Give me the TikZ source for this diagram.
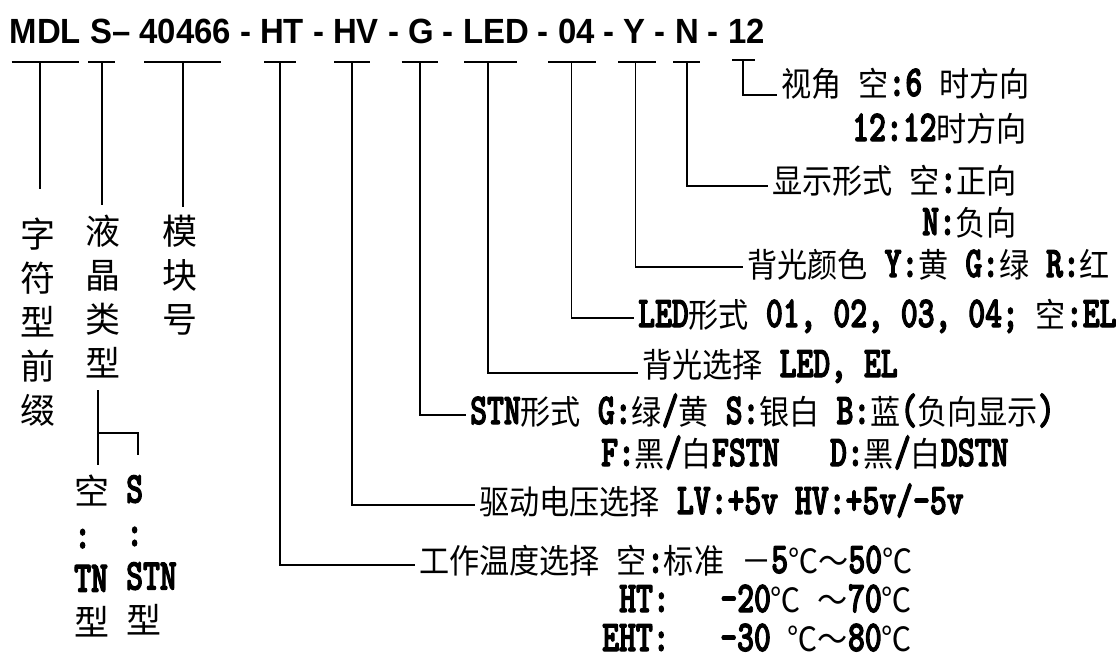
\documentclass[tikz,border=0pt]{standalone}
\usepackage{fontspec}
\setmainfont{Liberation Serif}
\newfontfamily\hdfont{Liberation Sans}[FakeStretch=0.94]
\newfontfamily\latfont{Latin Modern Mono Light}[FakeStretch=0.73,FakeBold=2.5,WordSpace={1,0,0}]
\newfontfamily\cjkfont{Noto Sans CJK SC}[FakeStretch=0.9]
\newfontfamily\cjkvfont{Noto Sans CJK SC}
\newcommand\z[1]{{\normalfont\cjkfont\fontsize{33.5}{40}\selectfont #1}}
\newcommand\zv[1]{{\normalfont\cjkvfont\fontsize{35}{44}\selectfont #1}}
\tikzset{
  mdlline/.style={line width=1.8pt},
  mdllbl/.style={anchor=base west,inner xsep=4pt,inner ysep=0pt,
    font=\latfont\bfseries\fontsize{44}{46}\selectfont},
  mdlcol/.style={anchor=north,align=center,inner sep=0pt,
    font=\cjkvfont\fontsize{35}{44}\selectfont},
  mdlsub/.style={anchor=north west,align=left,inner sep=0pt,
    font=\latfont\bfseries\fontsize{44}{43.5}\selectfont},
}

\begin{document}
\begin{tikzpicture}[x=1pt,y=-1pt]
  \useasboundingbox (0,0) rectangle (1119,659);

  \node [anchor=base west,inner sep=0pt,font=\hdfont\bfseries\fontsize{35}{40}\selectfont]
    (code) at (9.5,43.3) {MDL S– 40466 - HT - HV - G - LED - 04 - Y - N - 12};

  \foreach \nm/\xa/\xb/\xc in {pre/11.7/79.3/40, lcd/88/115/101.7, mod/144/221/182.7,
      tmp/264/296/280, drv/334/370/352, stn/401.7/437.7/420, bkl/464/516.7/488.3,
      led/548/596/571.5, col/618/656/635.5, dsp/673/700/686.7}{
    \draw [mdlline] (\xa,62) -- (\xb,62);
    \coordinate (b\nm) at (\xc,62);
  }
  \draw [mdlline] (732,60) -- (755,60);
  \coordinate (bang) at (743,60);

  % left column
  \node [mdlcol] (pre) at (37.5,218) {字\\符\\型\\前\\缀};
  \node [mdlcol] (lcd) at (102.5,215) {液\\晶\\类\\型};
  \node [mdlcol] (mod) at (180,215) {模\\块\\号};
  \coordinate (epre) at (40,189);
  \coordinate (elcd) at (101.7,205);
  \coordinate (emod) at (182.7,207);
  \draw [mdlline] (bpre) -- (epre);
  \draw [mdlline] (blcd) -- (elcd);
  \draw [mdlline] (bmod) -- (emod);

  \node [mdlsub] (tn)   at (74,475)  {\zv{空}\\:\\TN\\\zv{型}};
  \node [mdlsub] (stnt) at (126,475) {S\\:\\STN\\\zv{型}};
  \coordinate (fa) at (97.7,390);
  \coordinate (fb) at (97.7,465);
  \coordinate (fk) at (97.7,433);
  \coordinate (fc) at (138.3,455);
  \draw [mdlline] (fa) -- (fb);
  \draw [mdlline] (fk) -| (fc);

  % right labels
  \node [mdllbl] (ang)  at (777,96)  {\z{视角} \z{空}:6 \z{时方向}};
  \node [mdllbl] (ang2) at (848,141) {12:12\z{时方向}};
  \node [mdllbl] (dsp)  at (768,193) {\z{显示形式} \z{空}:\z{正向}};
  \node [mdllbl] (dsp2) at (918,235) {N:\z{负向}};
  \node [mdllbl] (col)  at (743,277) {\z{背光颜色} Y:\z{黄} G:\z{绿} R:\z{红}};
  \node [mdllbl] (led)  at (634,327) {LED\z{形式} 01, 02, 03, 04; \z{空}:EL};
  \node [mdllbl] (bkl)  at (638,377) {\z{背光选择} LED, EL};
  \node [mdllbl] (stn)  at (466,424) {STN\z{形式} G:\z{绿}/\z{黄} S:\z{银白} B:\z{蓝}(\z{负向显示})};
  \node [mdllbl] (stn2) at (597,466) {F:\z{黑}/\z{白}FSTN~~~D:\z{黑}/\z{白}DSTN};
  \node [mdllbl] (drv)  at (475,514) {\z{驱动电压选择} LV:+5v HV:+5v/–5v};
  \node [mdllbl] (tmp)  at (415,573) {\z{工作温度选择} \z{空}:\z{标准} \z{－}5\z{℃～}50\z{℃}};
  \node [mdllbl] (tmp2) at (615,612) {HT:~~~–20\z{℃} \z{～}70\z{℃}};
  \node [mdllbl] (tmp3) at (598,651) {EHT:~~~–30 \z{℃}\z{～}80\z{℃}};

  \draw [mdlline] (bang) |- ([yshift=1pt]ang.base west);
  \draw [mdlline] (bdsp) |- ([yshift=7pt]dsp.base west);
  \draw [mdlline] (bcol) |- ([yshift=10pt]col.base west);
  \draw [mdlline] (bled) |- ([yshift=9pt]led.base west);
  \draw [mdlline] (bbkl) |- ([yshift=4pt]bkl.base west);
  \draw [mdlline] (bstn) |- ([yshift=9pt]stn.base west);
  \draw [mdlline] (bdrv) |- ([yshift=9pt]drv.base west);
  \draw [mdlline] (btmp) |- ([yshift=8pt]tmp.base west);
\end{tikzpicture}
\end{document}
